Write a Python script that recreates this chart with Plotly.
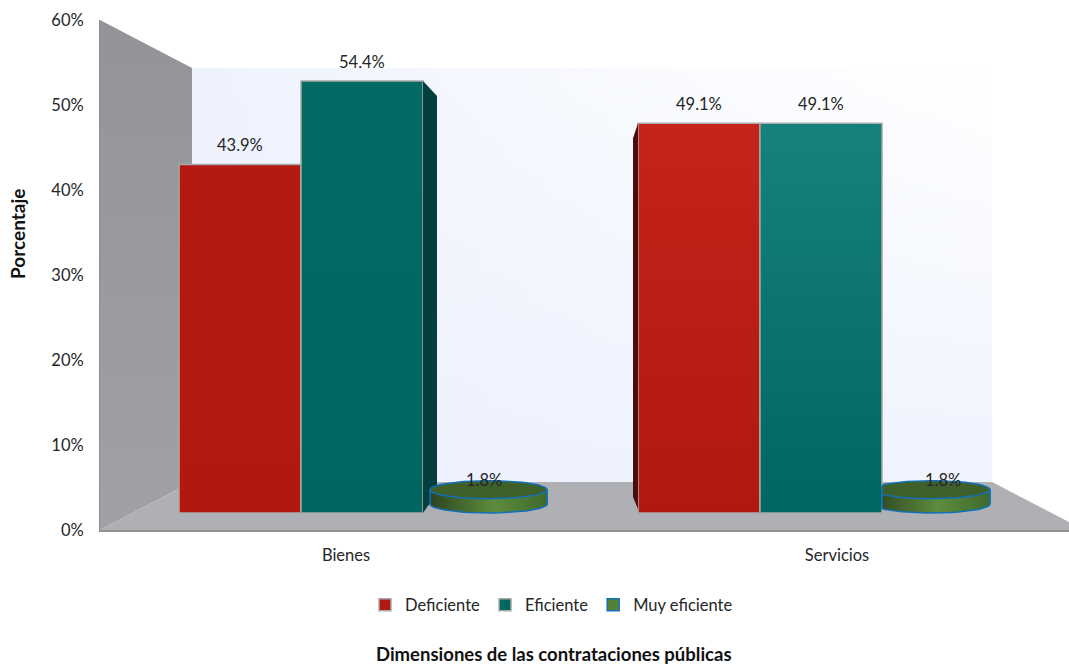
import numpy as np
import plotly.graph_objects as go

# ---- data ----
categories = ["Bienes", "Servicios"]
deficiente = [43.9, 49.1]
eficiente = [54.4, 49.1]
muy_eficiente = [1.8, 1.8]
value_ticks = [0, 10, 20, 30, 40, 50, 60]
series_names = ["Deficiente", "Eficiente", "Muy eficiente"]

# ---- page geometry ----
W, H = 1069, 665
L, R, T, B = 100, 1069, 20, 530         # value axis frame, px
BASE_PX, PX_PER_PCT = 513, 7.94         # front plane of the 3D bars
GROUP_C0, GROUP_STEP = 362, 459         # group centre and spacing, px
SLOT = 122 / GROUP_STEP


def my(p):  # px row -> main y axis
    return (B - p) / (B - T) * 60


def y2(p):  # px row -> bar y axis
    return (BASE_PX - p) / PX_PER_PCT


def x2(p):  # px column -> bar x axis
    return (p - GROUP_C0) / GROUP_STEP


def paper_x(p):
    return (p - L) / (R - L)


def paper_y(p):
    return (B - p) / (B - T)


def poly(xs, ys, **kw):
    return go.Scatter(x=list(xs) + [xs[0]], y=list(ys) + [ys[0]], mode="lines", fill="toself",
                      showlegend=False, hoverinfo="skip", **kw)


def grad(kind, lo, hi):
    return dict(type=kind, colorscale=[[0, lo], [1, hi]])


fig = go.Figure()

# ---- walls and floor on the main axes ----
wx = [192, 992, 992, 192]
wy = [my(68), my(68), my(482), my(482)]
nol = dict(width=0)
fig.add_trace(poly(wx, wy, line=nol, fillgradient=grad("vertical", "#EFF3FE", "#FFFFFF")))
fig.add_trace(poly(wx, wy, line=nol, fillgradient=grad("horizontal", "rgba(232,238,252,0.75)", "rgba(240,244,255,0)")))
fig.add_trace(poly([100, 192, 192, 100], [my(20), my(68), my(482), my(530)], line=nol,
                   fillgradient=grad("vertical", "#9FA1A4", "#929497")))
fig.add_trace(poly([100, 192, 992, 1069, 1069], [my(530), my(482), my(482), my(522), my(530)],
                   line=nol, fillcolor="#AEB0B5"))

# ---- bars ----
colors = ["#B01810", "#00665F", "#548235"]
bar_line = dict(color="#A9ABAB", width=1.5)
pos = list(range(len(categories)))
fig.add_trace(go.Bar(x=pos, y=deficiente, name=series_names[0], xaxis="x2", yaxis="y2",
                     width=SLOT, offset=-1.5 * SLOT, marker=dict(color=colors[0], line=bar_line),
                     hovertemplate="%{y}%<extra>Deficiente</extra>"))
fig.add_trace(go.Bar(x=pos, y=eficiente, name=series_names[1], xaxis="x2", yaxis="y2",
                     width=SLOT, offset=-0.5 * SLOT, marker=dict(color=colors[1], line=bar_line),
                     hovertemplate="%{y}%<extra>Eficiente</extra>"))

DISC_W = 117 / GROUP_STEP
disc_left = [68 / GROUP_STEP, 52 / GROUP_STEP]     # full disc, relative to the group centre
visible_left = [68 / GROUP_STEP, 61 / GROUP_STEP]  # the Servicios disc starts behind the teal bar
visible_w = [DISC_W - (visible_left[i] - disc_left[i]) for i in range(2)]
DISC_BASE = y2(504)
fig.add_trace(go.Bar(x=pos, y=muy_eficiente, base=[DISC_BASE] * 2, name=series_names[2], xaxis="x2", yaxis="y2",
                     width=visible_w, offset=visible_left,
                     marker=dict(color=colors[2], line=dict(color="#1170B8", width=1.5)),
                     hovertemplate="%{y}%<extra>Muy eficiente</extra>"))

on2 = dict(xaxis="x2", yaxis="y2")

# lighter sheen on the bars, stronger on Servicios
sheen = [0.04, 0.25]
tints = ["255,70,60", "90,210,210"]
for i in pos:
    x0 = i - 1.5 * SLOT
    for j, vals in enumerate([deficiente, eficiente]):
        a = x0 + j * SLOT + 0.002
        b = a + SLOT - 0.004
        fig.add_trace(poly([a, b, b, a], [vals[i] - 0.1, vals[i] - 0.1, 0.1, 0.1], line=nol,
                           fillgradient=grad("vertical", f"rgba({tints[j]},0)", f"rgba({tints[j]},{sheen[i]})"), **on2))

# side faces
DX, DY = 14 / GROUP_STEP, 15 / PX_PER_PCT
xr = 0 - 0.5 * SLOT + SLOT
v = eficiente[0]
fig.add_trace(poly([xr, xr + DX, xr + DX, xr], [v, v - DY, 20 / PX_PER_PCT, 0], line=nol, fillcolor="#033F3F", **on2))
xl = 1 - 1.5 * SLOT
v = deficiente[1]
DXL = 5 / GROUP_STEP
fig.add_trace(poly([xl, xl - DXL, xl - DXL, xl], [v, v - DY, 16 / PX_PER_PCT, 0.5], line=nol, fillcolor="#4A0E0C", **on2))

# cylinders for the third series
t = np.linspace(0, 2 * np.pi, 73)
lower = np.linspace(np.pi, 2 * np.pi, 37)
RY = 9 / PX_PER_PCT
edge = dict(color="#1170B8", width=1.5)
for i in pos:
    rx = DISC_W / 2
    cx = i + disc_left[i] + rx
    low = i + visible_left[i]
    top = DISC_BASE + muy_eficiente[i]
    bx = np.maximum(cx + rx * np.cos(lower), low)
    by = DISC_BASE + RY * np.sin(lower)
    body_x = np.concatenate(([max(cx - rx, low)], bx, [cx + rx]))
    body_y = np.concatenate(([top], by, [top]))
    fig.add_trace(poly(list(body_x), list(body_y), line=edge,
                       fillgradient=dict(type="horizontal", start=float(cx - rx), stop=float(cx + rx),
                                         colorscale=[[0, "#2C4420"], [0.55, "#5E8C3E"], [1, "#3E6A2A"]]), **on2))
    ex = np.maximum(cx + rx * np.cos(t), low)
    ey = top + RY * np.sin(t)
    fig.add_trace(poly(list(ex), list(ey), line=edge, fillcolor="#3F5F2B", **on2))

# ---- text ----
FONT = "Lato"
SZ = 16.5
annos = []
for k, vals in enumerate([deficiente, eficiente, muy_eficiente]):
    for i in pos:
        annos.append(dict(x=i + (k - 1) * SLOT, y=vals[i], xref="x2", yref="y2", text=f"{vals[i]}%",
                          showarrow=False, yshift=19, xanchor="center", yanchor="middle",
                          font=dict(family=FONT, size=SZ, color="#262626")))
annos.append(dict(x=paper_x(18), y=paper_y(234), xref="paper", yref="paper", text="<b>Porcentaje</b>",
                  textangle=-90, showarrow=False, xanchor="center", yanchor="middle",
                  font=dict(family=FONT, size=19, color="#111111")))
annos.append(dict(x=paper_x(554), y=paper_y(654), xref="paper", yref="paper",
                  text="<b>Dimensiones de las contrataciones públicas</b>",
                  showarrow=False, xanchor="center", yanchor="middle",
                  font=dict(family=FONT, size=18.5, color="#111111")))

fig.update_layout(
    width=W, height=H, margin=dict(l=L, r=W - R, t=T, b=H - B),
    paper_bgcolor="white", plot_bgcolor="white", barmode="overlay",
    annotations=annos,
    font=dict(family=FONT, size=SZ, color="#262626"),
    xaxis=dict(range=[L, R], domain=[0, 1], tickvals=[346, 837], ticktext=categories,
               showgrid=False, zeroline=False, showline=True, linecolor="#8E8E8E", linewidth=2,
               ticks="outside", ticklen=9, tickcolor="rgba(0,0,0,0)", tickfont=dict(size=SZ)),
    yaxis=dict(range=[0, 60], domain=[0, 1], tickvals=value_ticks, ticktext=[f"{v}%" for v in value_ticks],
               showgrid=False, zeroline=False, showline=True, linecolor="#8E9092", linewidth=1,
               ticks="outside", ticklen=12, tickcolor="rgba(0,0,0,0)", tickfont=dict(size=SZ)),
    xaxis2=dict(overlaying="x", anchor="y2", range=[x2(L), x2(R)], visible=False),
    yaxis2=dict(overlaying="y", anchor="x2", range=[y2(B), y2(T)], visible=False),
    showlegend=True,
    legend=dict(orientation="h", x=paper_x(365), y=paper_y(605), xanchor="left", yanchor="middle",
                font=dict(family=FONT, size=SZ, color="#262626"), bgcolor="rgba(0,0,0,0)"),
)

fig.write_html("out.html", config={"displayModeBar": False},
               post_script="document.body.style.margin='0';document.documentElement.style.overflow='hidden';")
